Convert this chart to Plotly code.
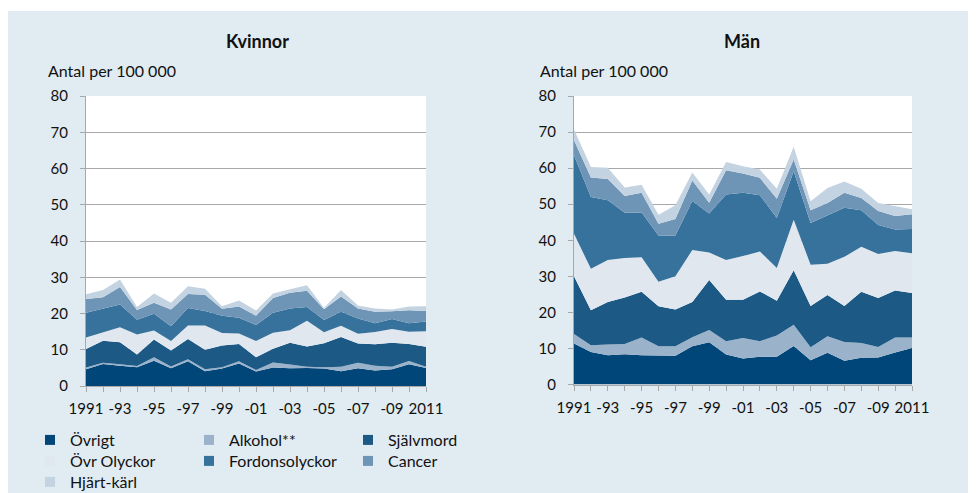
import plotly.graph_objects as go

years = list(range(1991, 2012))
tick_text = ["1991", "", "-93", "", "-95", "", "-97", "", "-99", "", "-01", "",
             "-03", "", "-05", "", "-07", "", "-09", "", "2011"]

series_names = ["Övrigt", "Alkohol**", "Självmord", "Övr Olyckor",
                "Fordonsolyckor", "Cancer", "Hjärt-kärl"]
colors = ["#004678", "#9bb2cb", "#1c5984", "#e0e7ef", "#36729b", "#6e94b6", "#c4d3e2"]

# Kvinnor (women), per 100 000
k_ovrigt = [4.6, 6.1, 5.6, 5.2, 7.0, 4.9, 6.8, 4.1, 4.8, 6.2, 4.0, 5.1, 4.9, 5.0, 4.8, 4.1, 4.9, 4.3, 4.6, 6.0, 5.0]
k_alkohol = [0.5, 0.3, 0.4, 0.3, 0.9, 0.5, 0.6, 0.5, 0.4, 0.6, 0.4, 1.4, 1.0, 0.3, 0.4, 1.2, 1.5, 1.3, 0.7, 0.9, 0.3]
k_sjalvmord = [5.1, 6.1, 6.1, 3.2, 4.9, 4.4, 5.6, 5.4, 6.0, 4.8, 3.5, 3.8, 6.0, 5.6, 6.6, 8.2, 5.3, 5.9, 6.6, 4.7, 5.5]
k_ovr_olyckor = [3.2, 2.3, 4.1, 5.5, 2.5, 2.6, 3.7, 6.7, 3.4, 2.9, 4.5, 4.4, 3.5, 7.1, 3.0, 3.1, 2.7, 3.4, 3.8, 3.4, 4.3]
k_fordon = [6.8, 6.5, 6.3, 4.1, 4.6, 4.1, 4.8, 4.0, 4.8, 4.3, 4.4, 5.5, 6.0, 3.8, 3.4, 3.9, 4.2, 2.4, 2.8, 2.3, 2.7]
k_cancer = [3.8, 3.2, 4.8, 2.7, 3.1, 4.6, 3.9, 4.5, 1.9, 3.1, 2.6, 4.1, 4.3, 4.5, 3.0, 4.2, 2.8, 3.2, 2.1, 3.6, 2.9]
k_hjart = [1.3, 2.0, 2.1, 0.8, 2.5, 1.9, 2.1, 1.6, 0.7, 1.7, 1.4, 1.2, 1.0, 1.5, 0.3, 1.8, 0.8, 0.9, 0.5, 1.0, 1.3]

# Män (men), per 100 000
m_ovrigt = [11.4, 9.0, 8.1, 8.4, 8.1, 8.0, 8.0, 10.6, 11.7, 8.3, 7.2, 7.7, 7.7, 10.7, 6.7, 8.8, 6.6, 7.4, 7.5, 8.9, 10.1]
m_alkohol = [2.6, 1.9, 3.0, 2.8, 4.9, 2.6, 2.6, 2.5, 3.4, 3.7, 5.7, 4.3, 5.9, 5.9, 3.6, 4.6, 5.2, 4.1, 2.9, 4.1, 2.9]
m_sjalvmord = [16.0, 9.7, 11.8, 12.9, 12.7, 11.1, 10.2, 9.8, 13.9, 11.5, 10.6, 13.8, 9.6, 15.1, 11.5, 11.4, 10.0, 14.2, 13.6, 13.1, 12.4]
m_ovr_olyckor = [11.8, 11.5, 11.6, 11.0, 9.6, 6.8, 9.2, 14.4, 7.6, 11.0, 12.1, 11.1, 9.1, 14.0, 11.4, 8.7, 13.6, 12.5, 12.2, 10.9, 11.0]
m_fordon = [21.8, 19.9, 16.6, 12.5, 12.4, 12.8, 11.3, 13.6, 10.8, 18.2, 17.6, 15.6, 13.9, 13.4, 11.6, 13.4, 13.6, 10.1, 8.0, 6.0, 6.7]
m_cancer = [4.1, 5.4, 5.9, 4.7, 5.5, 3.3, 4.6, 5.7, 3.0, 6.7, 5.3, 4.8, 5.3, 3.3, 3.5, 3.4, 4.2, 3.4, 3.9, 3.7, 4.1]
m_hjart = [3.0, 2.9, 3.1, 2.3, 2.2, 2.5, 3.8, 2.2, 2.3, 2.3, 2.0, 2.3, 2.8, 3.5, 2.5, 4.2, 3.1, 2.6, 2.2, 2.8, 1.4]

kvinnor = [k_ovrigt, k_alkohol, k_sjalvmord, k_ovr_olyckor, k_fordon, k_cancer, k_hjart]
man = [m_ovrigt, m_alkohol, m_sjalvmord, m_ovr_olyckor, m_fordon, m_cancer, m_hjart]

# page is offset by the browser's 8px body margin
OFF = 8
W, H = 976 - OFF, 493 - OFF
ML, MR, MT, MB = 78, 64, 88, 107
PW = W - ML - MR
PH = H - MT - MB
FONT = "Lato, 'Open Sans', sans-serif"
BG = "#e0ebf2"
GRID = "#a8a8a8"
TXT = "#111111"


def fx(page_x):
    return (page_x - OFF - ML) / PW


def fy(page_y):
    return (H - MB - (page_y - OFF)) / PH


def cx(page_x):
    return (page_x - OFF) / W


def cy(page_y):
    return 1 - (page_y - OFF) / H


fig = go.Figure()

for vals_list, xa, ya, grp in [(kvinnor, "x", "y", "k"), (man, "x2", "y2", "m")]:
    for name, vals, col in zip(series_names, vals_list, colors):
        fig.add_trace(go.Scatter(
            x=years, y=vals, name=name, stackgroup=grp, mode="lines",
            line=dict(width=0, color=col), fillcolor=col,
            xaxis=xa, yaxis=ya, showlegend=False, hoverinfo="skip"))

# legend: one single-entry legend per slot, laid out in three columns
legend_cols = [30, 189, 348]
legend_rows = [440, 461, 482]
legend_layout = {}
for i, (name, col) in enumerate(zip(series_names, colors)):
    lid = "legend" if i == 0 else f"legend{i + 1}"
    fig.add_trace(go.Scatter(
        x=[None], y=[None], mode="markers", name=name, legend=lid,
        marker=dict(symbol="square", size=10, color=col, line=dict(width=0)),
        showlegend=True))
    legend_layout[lid] = dict(
        orientation="v", xref="container", yref="container",
        x=cx(legend_cols[i % 3]), y=cy(legend_rows[i // 3]),
        xanchor="left", yanchor="middle", bgcolor="rgba(0,0,0,0)",
        font=dict(family=FONT, size=16, color=TXT), itemwidth=30)

axis_common = dict(
    showline=True, linecolor=GRID, linewidth=1,
    ticks="outside", ticklen=5, tickcolor=GRID, tickwidth=1,
    tickfont=dict(family=FONT, size=15, color=TXT),
    zeroline=False, automargin=False,
)
xax = dict(axis_common, range=[1991, 2011], tickvals=years, ticktext=tick_text,
           showgrid=False, tickangle=0, ticklabelstandoff=4)
yax = dict(axis_common, range=[0, 80], dtick=10, showgrid=True,
           gridcolor=GRID, gridwidth=1.3, ticklabelstandoff=9)

fig.update_layout(
    width=W, height=H,
    margin=dict(l=ML, r=MR, t=MT, b=MB, autoexpand=False),
    paper_bgcolor=BG, plot_bgcolor="white",
    font=dict(family=FONT, size=15, color=TXT),
    xaxis=dict(xax, domain=[0, fx(426)], anchor="y"),
    yaxis=dict(yax, domain=[0, 1], anchor="x"),
    xaxis2=dict(xax, domain=[fx(574), 1], anchor="y2"),
    yaxis2=dict(yax, domain=[fy(384.5), 1], anchor="x2"),
    showlegend=True,
    **legend_layout,
)

# thin white strip at the very top
fig.add_shape(type="rect", xref="paper", yref="paper", x0=fx(0), x1=fx(980),
              y0=fy(11), y1=fy(0), fillcolor="white", line=dict(width=0), layer="above")

annotations = [
    dict(text="<b>Kvinnor</b>", x=fx(257), y=fy(41), xanchor="center", yanchor="middle",
         font=dict(size=18)),
    dict(text="<b>Män</b>", x=fx(742), y=fy(41), xanchor="center", yanchor="middle",
         font=dict(size=18)),
    dict(text="Antal per 100 000", x=fx(46), y=fy(71), xanchor="left", yanchor="middle",
         font=dict(size=16)),
    dict(text="Antal per 100 000", x=fx(538), y=fy(71), xanchor="left", yanchor="middle",
         font=dict(size=16)),
]
for a in annotations:
    a.update(xref="paper", yref="paper", showarrow=False)
fig.update_layout(annotations=annotations)

fig.write_html("out.html")
